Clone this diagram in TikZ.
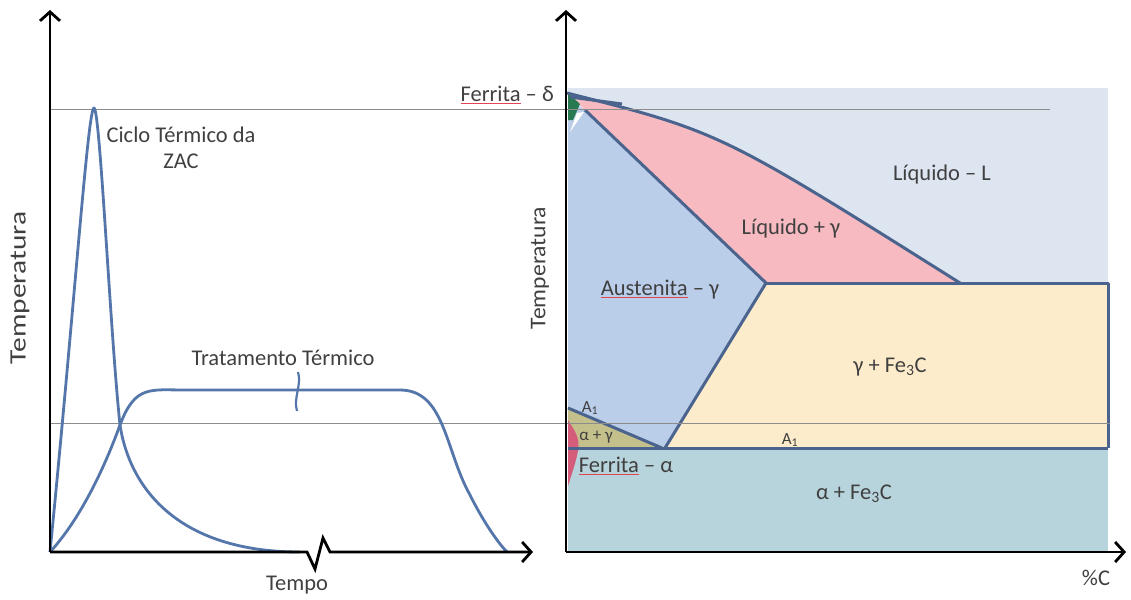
\documentclass[tikz,border=0pt]{standalone}
\usepackage{fontspec}
\setmainfont{Carlito}
\usepackage{xcolor}
\usetikzlibrary{arrows.meta}
\definecolor{curveblue}{RGB}{84,118,170}
\definecolor{phaseline}{RGB}{74,100,142}
\definecolor{liqfill}{RGB}{221,229,241}
\definecolor{austfill}{RGB}{186,205,233}
\definecolor{pinkfill}{RGB}{246,186,192}
\definecolor{cemfill}{RGB}{253,236,203}
\definecolor{pearlfill}{RGB}{183,211,219}
\definecolor{olivefill}{RGB}{196,192,140}
\definecolor{ferrpink}{RGB}{214,92,124}
\definecolor{deltagreen}{RGB}{40,120,80}
\definecolor{labgray}{RGB}{64,64,64}
\definecolor{guidegray}{RGB}{140,140,140}
\definecolor{spellred}{RGB}{225,70,80}
\tikzset{
  axis/.style={-{Straight Barb[length=9pt,width=20pt]},line width=2.8pt,black},
  curve/.style={line width=2.8pt,draw=curveblue,line join=round},
  phase/.style={line width=3pt,draw=phaseline,line join=round},
  guide/.style={line width=1pt,draw=guidegray},
  lab/.style={font=\fontsize{22.5}{26}\selectfont,text=labgray,inner sep=1pt,align=center},
  smalllab/.style={font=\fontsize{17}{19}\selectfont,text=labgray,inner sep=1pt}
}
\newcommand{\spellmark}[1]{\textcolor{spellred}{\underline{\textcolor{labgray}{#1}}}}

\begin{document}
\begin{tikzpicture}[x=1pt,y=-1pt]
  \useasboundingbox (0,0) rectangle (1131,599);
  % phase fields
  \fill[liqfill] (568,88) rectangle (1108,283);
  \fill[pinkfill] (567,93) .. controls (720,132) .. (960,283) -- (766,283)
    -- (585,110) -- cycle;
  \fill[austfill] (568,100) -- (585,110) -- (766,283) -- (665,448)
    -- (568,408) -- cycle;
  \fill[cemfill] (766,283) -- (1108,283) -- (1108,448) -- (665,448) -- cycle;
  \fill[pearlfill] (568,448) rectangle (1108,552);
  \fill[olivefill] (568,408) -- (662,448) -- (568,448) -- cycle;
  \fill[ferrpink] (568,420) .. controls (582,442) .. (568,486) -- cycle;
  \fill[deltagreen] (568,93) -- (580,104) -- (573,120) -- (568,120) -- cycle;
  \fill[white] (570,132) -- (584,112) -- (577,113) -- cycle;
  % phase boundaries
  \draw[phase] (567,93) .. controls (720,132) .. (960,283);
  \draw[phase] (570,97) -- (622,104);
  \draw[phase] (585,110) -- (766,283) -- (665,448);
  \draw[phase] (766,283) -- (1108,283) -- (1108,448);
  \draw[phase] (568,408) -- (662,448);
  \draw[phase] (568,448) -- (1108,448);
  % guide lines
  \draw[guide] (50,110) -- (1050,110);
  \draw[guide] (50,423) -- (1110,423);
  % axes
  \coordinate (tO) at (50,552);
  \coordinate (tX) at (533,552);
  \coordinate (tY) at (50,10);
  \coordinate (cO) at (566,552);
  \coordinate (cX) at (1126,552);
  \coordinate (cY) at (566,10);
  % thermal cycles
  \draw[curve] (tO) .. controls (75,300) and (88,108) .. (94,108)
    .. controls (100,108) and (110,330) .. (120,425)
    .. controls (130,490) and (180,552) .. (300,552);
  \draw[curve] (tO) .. controls (75,525) and (100,480) .. (120,425)
    .. controls (135,385) and (150,390) .. (185,390)
    -- (400,390) .. controls (445,390) and (445,450) .. (470,495)
    .. controls (485,525) and (500,545) .. (507,552);
  \draw[curve,line width=2.2pt] (298,372) .. controls (302,385) and (293,398) .. (297,411);
  \draw[axis] (tO) -- (tY);
  \draw[axis,line join=miter] (tO) -- (307,552) -- (315,569) -- (323,538)
    -- (330,552) -- (tX);
  \draw[axis] (cO) -- (cY);
  \draw[axis] (cO) -- (cX);
  % labels
  \node[lab] (zac) at (181,148) {Ciclo Térmico da\\ZAC};
  \node[lab] (treat) at (283,358) {Tratamento Térmico};
  \node[lab] (time) at (297,585) {Tempo};
  \node[lab] (carbon) at (1096,578) {\%C};
  \node[lab,rotate=90,xscale=1.25,font=\fontsize{23.5}{25}\selectfont] (tempL) at (20,288) {Temperatura};
  \node[lab,rotate=90,xscale=1.05] (tempR) at (540,268) {Temperatura};
  \node[lab,anchor=east] (delta) at (555,95) {\spellmark{Ferrita} – δ};
  \node[lab] (liq) at (942,175) {Líquido – L};
  \node[lab] (liqg) at (791,228) {Líquido + γ};
  \node[lab] (aust) at (660,290) {\spellmark{Austenita} – γ};
  \node[lab] (gcem) at (890,367) {γ + Fe\textsubscript{3}C};
  \node[smalllab] (aone) at (590,408) {A\textsubscript{1}};
  \node[smalllab] (ag) at (596,437) {α + γ};
  \node[smalllab] (atwo) at (790,440) {A\textsubscript{1}};
  \node[lab] (alpha) at (626,466) {\spellmark{Ferrita} – α};
  \node[lab] (acem) at (854,494) {α + Fe\textsubscript{3}C};
\end{tikzpicture}
\end{document}
